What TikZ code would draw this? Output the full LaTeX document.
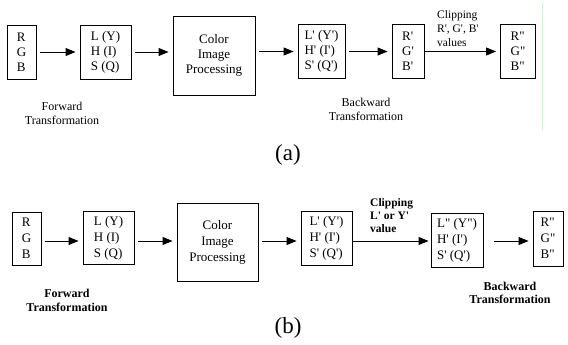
\documentclass[tikz,border=0pt]{standalone}
\usepackage{fontspec}
\setmainfont{Liberation Serif}
\usetikzlibrary{arrows.meta}
\newcommand{\qs}{\textquotesingle}
\newcommand{\qd}{\textquotedbl}
\begin{document}
\begin{tikzpicture}[x=1pt,y=-1pt,
  box/.style={draw, line width=0.9pt, inner sep=0pt, align=left,
    font=\fontsize{13}{15}\selectfont},
  boxb/.style={box, font=\fontsize{13}{16}\selectfont},
  arr/.style={line width=0.9pt, -{Triangle[length=10pt,width=8pt]},
    shorten <=4pt, shorten >=4pt},
  lbl/.style={align=center, font=\fontsize{12}{14}\selectfont, inner sep=0pt},
  captext/.style={font=\fontsize{23}{26}\selectfont, inner sep=0pt}]
\useasboundingbox (0,0) rectangle (568,345);
% green artifact line
\draw[green!25, line width=0.8pt] (542,3) -- (542,130);
% ---------- (a) ----------
\node[box, minimum width=29pt, minimum height=54pt] (a1) at (21.5,52) {R\\G\\B};
\node[box, minimum width=51pt, minimum height=54pt] (a2) at (105.5,52) {L (Y)\\H (I)\\S (Q)};
\node[box, minimum width=82pt, minimum height=79pt, align=center] (a3) at (214,55.5) {Color\\Image\\Processing};
\node[box, minimum width=47pt, minimum height=54pt] (a4) at (321.5,51.5) {L\qs{} (Y\qs)\\H\qs{} (I\qs)\\S\qs{} (Q\qs)};
\node[box, minimum width=32pt, minimum height=54pt] (a5) at (408,51.5) {R\qs\\G\qs\\B\qs};
\node[box, minimum width=35pt, minimum height=54pt] (a6) at (518,51.5) {R\qd\\G\qd\\B\qd};
\draw[arr] (a1.east) -- (a2.west |- a1.east);
\draw[arr] (a2.east) -- (a3.west |- a2.east);
\draw[arr] (a3.east |- a4.west) -- (a4.west);
\draw[arr] (a4.east) -- (a5.west);
\draw[arr, shorten <=0pt] (a5.east) -- (a6.west);
\node[lbl] (fa) at (62,113) {Forward\\Transformation};
\node[lbl] (ba) at (366,109) {Backward\\Transformation};
\node[lbl, align=left, anchor=north west, font=\fontsize{11.5}{14}\selectfont] (ca) at (437,10) {Clipping\\R\qs, G\qs, B\qs\\values};
\node[captext] (capa) at (288,155) {(a)};
% ---------- (b) ----------
\node[boxb, minimum width=29pt, minimum height=53pt] (b1) at (26.5,238.5) {R\\G\\B};
\node[boxb, minimum width=51pt, minimum height=53pt] (b2) at (108.5,238) {L (Y)\\H (I)\\S (Q)};
\node[boxb, minimum width=81pt, minimum height=78pt, align=center] (b3) at (217.5,242) {Color\\Image\\Processing};
\node[boxb, minimum width=51pt, minimum height=54pt] (b4) at (326.5,238.5) {L\qs{} (Y\qs)\\H\qs{} (I\qs)\\S\qs{} (Q\qs)};
\node[boxb, minimum width=52pt, minimum height=54pt] (b5) at (457,240) {L\qd{} (Y\qd)\\H\qs{} (I\qs)\\S\qs{} (Q\qs)};
\node[boxb, minimum width=30pt, minimum height=55pt] (b6) at (548,238.5) {R\qd\\G\qd\\B\qd};
\draw[arr] (b1.east |- 0,241) -- (b2.west |- 0,241);
\draw[arr] (b2.east |- 0,241) -- (b3.west |- 0,241);
\draw[arr] (b3.east |- 0,241) -- (b4.west |- 0,241);
\draw[arr, shorten <=0pt, shorten >=2pt] (b4.east |- 0,241) -- (b5.west |- 0,241);
\draw[arr, shorten <=11pt, shorten >=4pt] (b5.east |- 0,241) -- (b6.west |- 0,241);
\node[lbl, font=\bfseries\fontsize{12}{14}\selectfont] (fb) at (67,300) {Forward\\Transformation};
\node[lbl, font=\bfseries\fontsize{12}{12.5}\selectfont] (bb) at (510,293) {Backward\\Transformation};
\node[lbl, align=left, anchor=north west, font=\bfseries\fontsize{11.5}{13}\selectfont] (cb) at (370,198) {Clipping\\L\qs{} or Y\qs\\value};
\node[captext] (capb) at (288,328) {(b)};
\end{tikzpicture}
\end{document}
